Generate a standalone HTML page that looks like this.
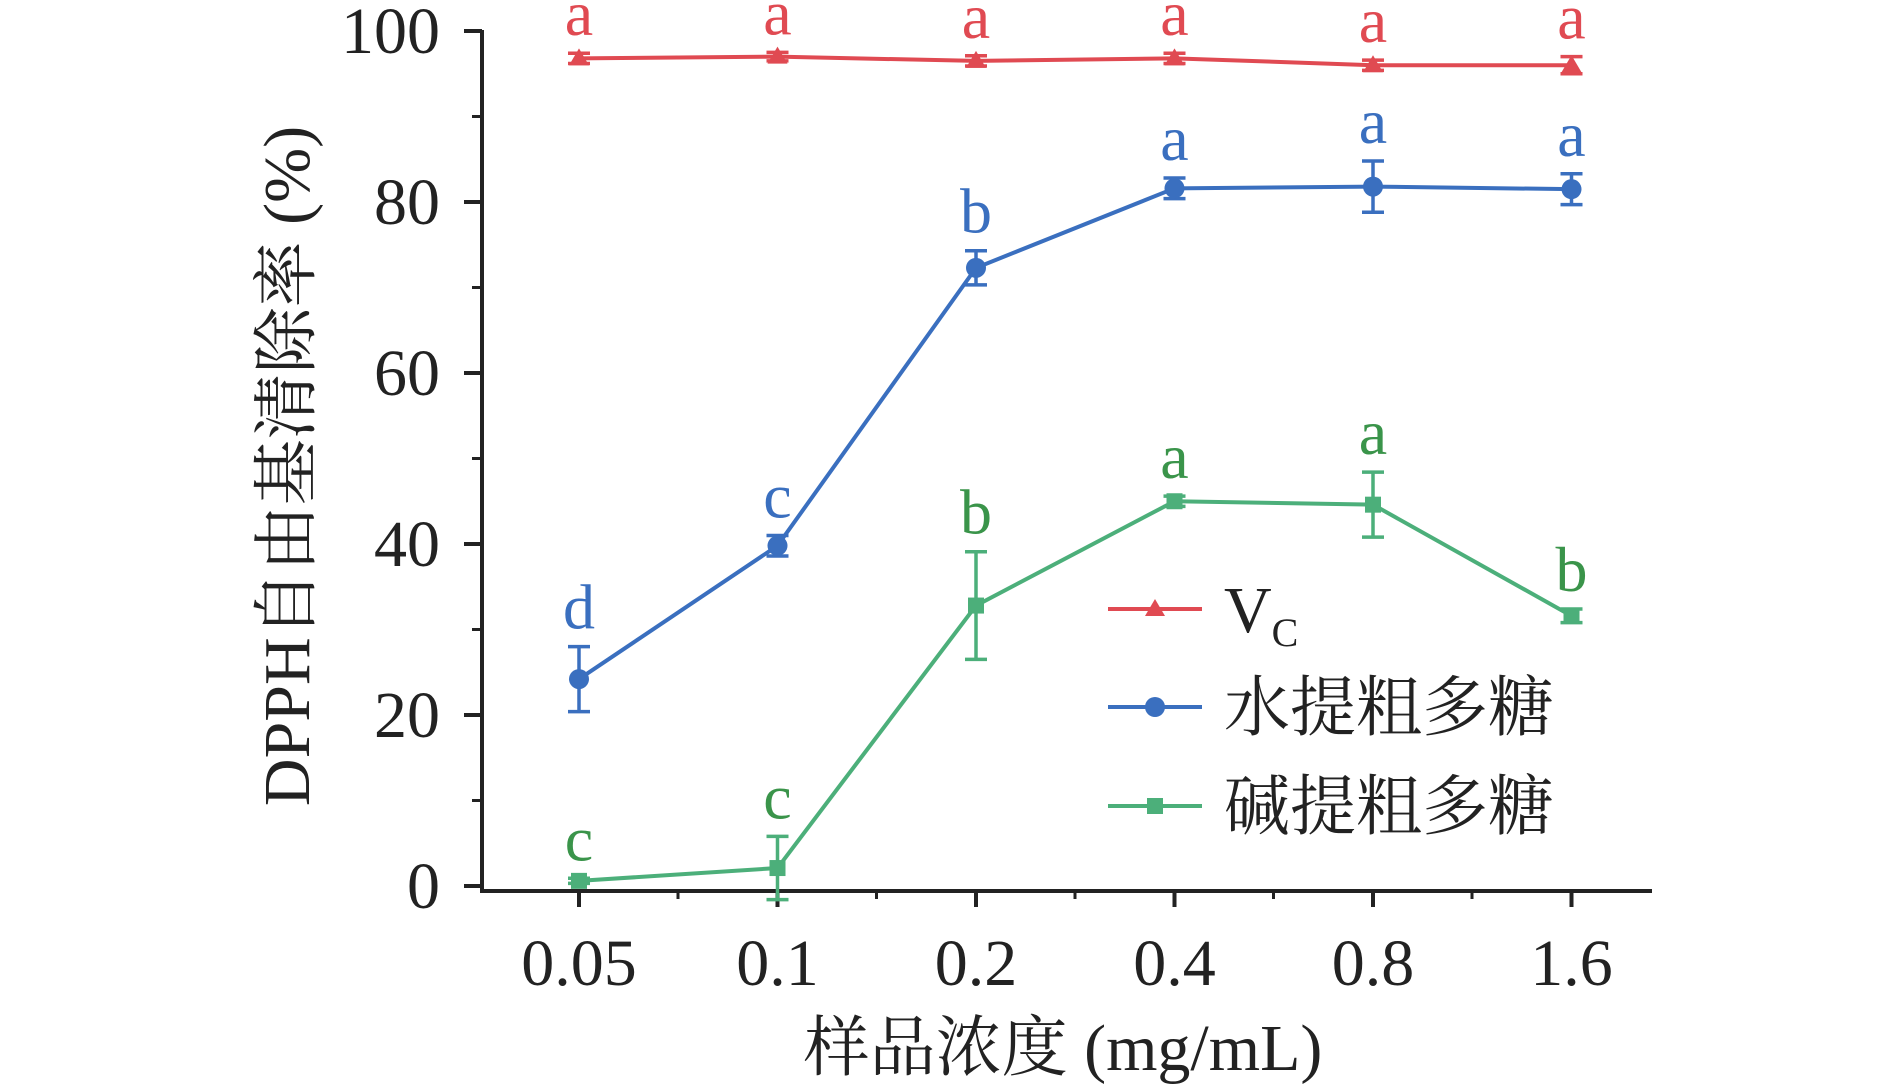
<!DOCTYPE html>
<html><head><meta charset="utf-8"><style>
body{margin:0;background:#fff}
svg text{font-family:"Liberation Serif","Noto Serif CJK SC","Noto Sans CJK SC",serif}
</style></head><body>
<svg id="chart" width="1890" height="1085" viewBox="0 0 1890 1085" xmlns="http://www.w3.org/2000/svg"></svg>
<script>
const categories=["0.05","0.1","0.2","0.4","0.8","1.6"];
const yTicks=[0,20,40,60,80,100];
const vcValues=[96.8,97.0,96.5,96.8,96.0,96.0];
const vcErr=[0.6,0.5,0.6,0.6,0.6,1.0];
const vcLetters=["a","a","a","a","a","a"];
const waterValues=[24.2,39.8,72.3,81.6,81.8,81.5];
const waterErr=[3.8,1.2,2.0,1.2,3.0,1.8];
const waterLetters=["d","c","b","a","a","a"];
const alkaliValues=[0.6,2.1,32.8,45.0,44.6,31.6];
const alkaliErr=[0.3,3.7,6.3,0.6,3.8,0.8];
const alkaliLetters=["c","c","b","a","a","b"];

const svg=document.getElementById('chart');
const NS='http://www.w3.org/2000/svg';
const x=i=>579+i*198.5;
const y=v=>886-v*8.55;
function mk(tag,attrs,parent){const e=document.createElementNS(NS,tag);for(const k in attrs)e.setAttribute(k,attrs[k]);(parent||svg).appendChild(e);return e;}

let ax=mk('line',{x1:482,y1:30,x2:482,y2:893,stroke:'#222','stroke-width':4});


let bx=mk('line',{x1:480,y1:891,x2:1652,y2:891,stroke:'#222','stroke-width':4});


yTicks.forEach(v=>{
  const t=mk('line',{x1:464,y1:y(v),x2:482,y2:y(v),stroke:'#222','stroke-width':4});
  
  
  const l=mk('text',{x:440,y:y(v)+22,'font-size':66,'text-anchor':'end',fill:'#222'});
  l.textContent=v;
  
  
  if(v<100){const m=mk('line',{x1:472,y1:y(v+10),x2:482,y2:y(v+10),stroke:'#222','stroke-width':3});
  
  }
});
categories.forEach((c,i)=>{
  const t=mk('line',{x1:x(i),y1:891,x2:x(i),y2:907,stroke:'#222','stroke-width':4});
  
  
  const l=mk('text',{x:x(i),y:985,'font-size':66,'text-anchor':'middle',fill:'#222'});
  l.textContent=c;
  
  
  if(i<categories.length-1){const m=mk('line',{x1:x(i)+99,y1:891,x2:x(i)+99,y2:899,stroke:'#222','stroke-width':3});
  
  }
});
let xt=mk('text',{x:1063,y:1070,'font-size':66,'text-anchor':'middle',fill:'#222'});
xt.textContent='样品浓度 (mg/mL)';


let yt=mk('text',{x:0,y:0,'font-size':66,'text-anchor':'middle',fill:'#222',transform:'translate(309,466) rotate(-90)'});
yt.textContent='DPPH自由基清除率 (%)';



function marker(kind,cx,cy,color,parent){
  if(kind==='tri') return mk('path',{d:`M${cx} ${cy-10} L${cx+10} ${cy+7} L${cx-10} ${cy+7} Z`,fill:color},parent);
  if(kind==='circ') return mk('circle',{cx:cx,cy:cy,r:10,fill:color},parent);
  return mk('rect',{x:cx-8,y:cy-8,width:16,height:16,fill:color},parent);
}
function series(name,vals,errs,letters,color,lcolor,kind){
  const g=mk('g',{});
  
  
  const pl=mk('polyline',{points:vals.map((v,i)=>x(i)+','+y(v)).join(' '),fill:'none',stroke:color,'stroke-width':4},g);
  
  
  vals.forEach((v,i)=>{
    const e=errs[i],cx=x(i);
    const eb=mk('path',{d:`M${cx} ${y(v+e)} V${y(v-e)} M${cx-11} ${y(v+e)} H${cx+11} M${cx-11} ${y(v-e)} H${cx+11}`,stroke:color,'stroke-width':3.5,fill:'none'},g);
    
    
    const m=marker(kind,cx,y(v),color,g);
    
    
    const t=mk('text',{x:cx,y:y(v+e)-18,'font-size':64,'text-anchor':'middle',fill:lcolor},g);
    t.textContent=letters[i];
    
    
  });
}
series('vc',vcValues,vcErr,vcLetters,'#e04a52','#e04a52','tri');
series('water-polysaccharide',waterValues,waterErr,waterLetters,'#3a6fbf','#3a6fbf','circ');
series('alkali-polysaccharide',alkaliValues,alkaliErr,alkaliLetters,'#4caf7a','#3a944a','sq');

const legNames=['vc','water-polysaccharide','alkali-polysaccharide'];
const legCols=['#e04a52','#3a6fbf','#4caf7a'];
const legKinds=['tri','circ','sq'];
const legY=[609,707,806];
const lg=mk('g',{});


legNames.forEach((n,i)=>{
  const e=mk('g',{},lg);
  
  
  mk('line',{x1:1108,y1:legY[i],x2:1202,y2:legY[i],stroke:legCols[i],'stroke-width':4},e);
  marker(legKinds[i],1155,legY[i],legCols[i],e);
  const t=mk('text',{x:1224,y:legY[i]+23,'font-size':66,fill:'#222'},e);
  if(i===0){t.textContent='V';const s=mk('tspan',{'font-size':40,dy:14},t);s.textContent='C';}
  else t.textContent=i===1?'水提粗多糖':'碱提粗多糖';
});
</script>
</body></html>
